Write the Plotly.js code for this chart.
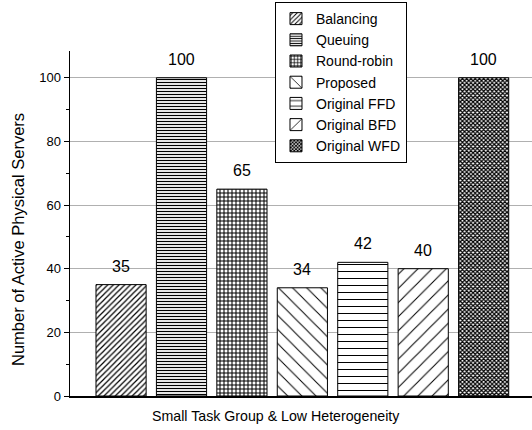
<!DOCTYPE html>
<html>
<head>
<meta charset="utf-8">
<script src="https://cdn.plot.ly/plotly-3.0.1.min.js"></script>
<style>html,body{margin:0;padding:0;background:#fff;}#chart{width:532px;height:430px;}</style>
</head>
<body>
<div id="chart"></div>
<script>
const methods = ["Balancing", "Queuing", "Round-robin", "Proposed", "Original FFD", "Original BFD", "Original WFD"];
const servers = [35, 100, 65, 34, 42, 40, 100];
const patternShapes = ["/", "-", "+", "\\", "-", "/", "x"];
const patternSizes = [4, 3, 4, 10, 7, 10, 3];
const patternSolidity = [0.3, 0.4, 0.45, 0.1, 0.15, 0.1, 0.65];
const xTitle = "Small Task Group & Low Heterogeneity";
const yTitle = "Number of Active Physical Servers";

const FONT = "Liberation Sans, Arial, sans-serif";

const traces = methods.map((m, i) => ({
  type: "bar",
  name: m,
  x: [i],
  y: [servers[i]],
  width: 0.83,
  marker: {
    color: "white",
    line: {color: "black", width: 1},
    pattern: {shape: patternShapes[i], size: patternSizes[i], solidity: patternSolidity[i], fgcolor: "black", bgcolor: "white", fillmode: "replace"}
  },
  hoverinfo: "skip"
}));

const valueLabels = servers.map((v, i) => ({
  x: i, y: v, xref: "x", yref: "y",
  text: String(v), showarrow: false,
  yanchor: "bottom", yshift: 8,
  font: {family: FONT, size: 16, color: "#000"}
}));

const titleLabels = [
  {text: xTitle, xref: "paper", yref: "paper", x: 0.446, y: -0.058, xanchor: "center", yanchor: "middle",
   showarrow: false, font: {family: FONT, size: 14.2, color: "#000"}},
  {text: yTitle, xref: "paper", yref: "paper", x: -0.1126, y: 0.455, xanchor: "center", yanchor: "middle",
   textangle: -90, showarrow: false, font: {family: FONT, size: 16.5, color: "#000"}}
];

const layout = {
  width: 532, height: 430,
  margin: {l: 70, r: 0, t: 51, b: 34},
  paper_bgcolor: "white", plot_bgcolor: "white",
  font: {family: FONT, color: "#000", size: 12},
  showlegend: true,
  barmode: "overlay",
  annotations: valueLabels.concat(titleLabels),
  legend: {
    x: 0.4437, y: 1.142, xanchor: "left", yanchor: "top",
    bordercolor: "black", borderwidth: 1, bgcolor: "white",
    font: {family: FONT, size: 14}, tracegroupgap: 0
  },
  xaxis: {
    range: [-0.845, 6.8], showticklabels: false, ticks: "", showgrid: false, zeroline: false,
    showline: true, linecolor: "black", linewidth: 1.5
  },
  yaxis: {
    range: [0, 108.4], dtick: 20, tick0: 0, ticks: "outside", ticklen: 5, tickcolor: "black",
    showline: true, linecolor: "black", linewidth: 1.5,
    showgrid: true, gridcolor: "#b0b0b0", gridwidth: 1, zeroline: false,
    tickfont: {size: 13},
    minor: {dtick: 10, ticks: "outside", ticklen: 3, tickcolor: "black", showgrid: false}
  }
};

Plotly.newPlot("chart", traces, layout, {displayModeBar: false, staticPlot: true});
</script>
</body>
</html>
